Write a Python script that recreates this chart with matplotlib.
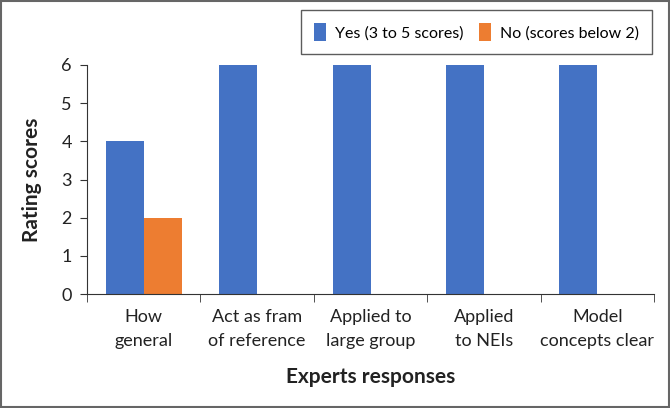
import matplotlib
matplotlib.use("Agg")
import matplotlib.pyplot as plt
import numpy as np
from matplotlib.patches import Rectangle

categories = ["How\ngeneral", "Act as fram\nof reference", "Applied to\nlarge group", "Applied\nto NEIs", "Model\nconcepts clear"]
yes_values = [4, 6, 6, 6, 6]
no_values = [2, 0, 0, 0, 0]
series_names = ["Yes (3 to 5 scores)", "No (scores below 2)"]
colors = ["#4472C4", "#ED7D31"]

plt.rcParams['font.family'] = ['Lato', 'DejaVu Sans']

fig = plt.figure(figsize=(6.7, 4.08), dpi=100)
ax = fig.add_axes([0.130, 0.279, 0.846, 0.562])

x = np.arange(len(categories))
w = 0.335
ax.bar(x - w/2, yes_values, width=w, color=colors[0], label=series_names[0])
ax.bar(x + w/2, no_values, width=w, color=colors[1], label=series_names[1])

ax.set_xlim(-0.5, len(categories) - 0.5)
ax.set_ylim(0, 6)
ax.set_yticks(range(0, 7))
ax.tick_params(axis='y', labelsize=13, direction='out', length=5, pad=6, color='#333333', labelcolor='#222222')
ax.set_xticks(x)
ax.set_xticklabels(categories, fontsize=13, color='#222222', linespacing=1.6)
ax.tick_params(axis='x', length=0, pad=11)
ax.set_xticks(np.arange(-0.5, len(categories)), minor=True)
ax.tick_params(axis='x', which='minor', length=6, direction='out', color='#333333')

for s in ['top', 'right']:
    ax.spines[s].set_visible(False)
ax.spines['left'].set_color('#333333')
ax.spines['bottom'].set_color('#333333')

ax.set_ylabel("Rating scores", fontsize=15, fontweight='bold', color='#222222', labelpad=14)
ax.set_xlabel("Experts responses", fontsize=15, fontweight='bold', color='#222222', labelpad=13)

leg = fig.legend(loc='upper right', bbox_to_anchor=(0.973, 0.975), borderaxespad=0.0,
                 ncol=2, fontsize=11.5,
                 frameon=True, fancybox=False, edgecolor='#333333', handlelength=0.75,
                 handleheight=1.4, columnspacing=1.0, handletextpad=0.55, borderpad=0.8)
leg.get_frame().set_linewidth(1.0)

fig.patches.append(Rectangle((0.002, 0.003), 0.996, 0.994, transform=fig.transFigure,
                             fill=False, edgecolor='#666666', linewidth=1.5))

fig.savefig("out.png", dpi=100)
